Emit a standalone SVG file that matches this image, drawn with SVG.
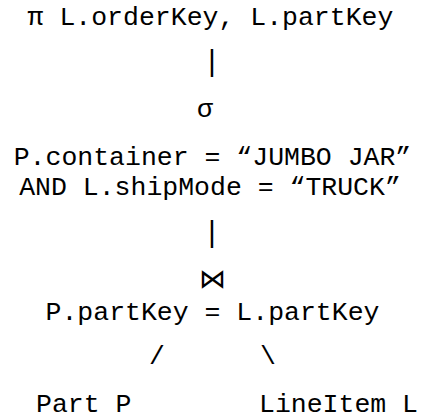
<svg xmlns="http://www.w3.org/2000/svg" width="423" height="419" viewBox="0 0 423 419">
<style>
text{font-family:"Liberation Mono","Courier New",monospace;font-size:26.5px;fill:#000}
.c{text-anchor:middle}
.p{font-size:29px}
</style>
<rect width="423" height="419" fill="#fff"/>
<g id="project"><text class="c" x="210.5" y="25">π L.orderKey, L.partKey</text></g>
<g id="select">
<text class="c" x="205" y="117">σ</text>
<text class="c" x="212.5" y="165">P.container = “JUMBO JAR”</text>
<text class="c" x="210" y="195">AND L.shipMode = “TRUCK”</text>
</g>
<g id="join">
<text class="c" x="212" y="288">⋈</text>
<text class="c" x="212.5" y="320">P.partKey = L.partKey</text>
</g>
<g id="part"><text x="36" y="412">Part P</text></g>
<g id="lineitem"><text x="259" y="412">LineItem L</text></g>
<g id="connectors">
<text class="c p" x="212" y="71">|</text>
<text class="c p" x="212" y="242">|</text>
<text class="c" x="157" y="364">/</text>
<text class="c" x="268" y="364">\</text>
</g>
</svg>
